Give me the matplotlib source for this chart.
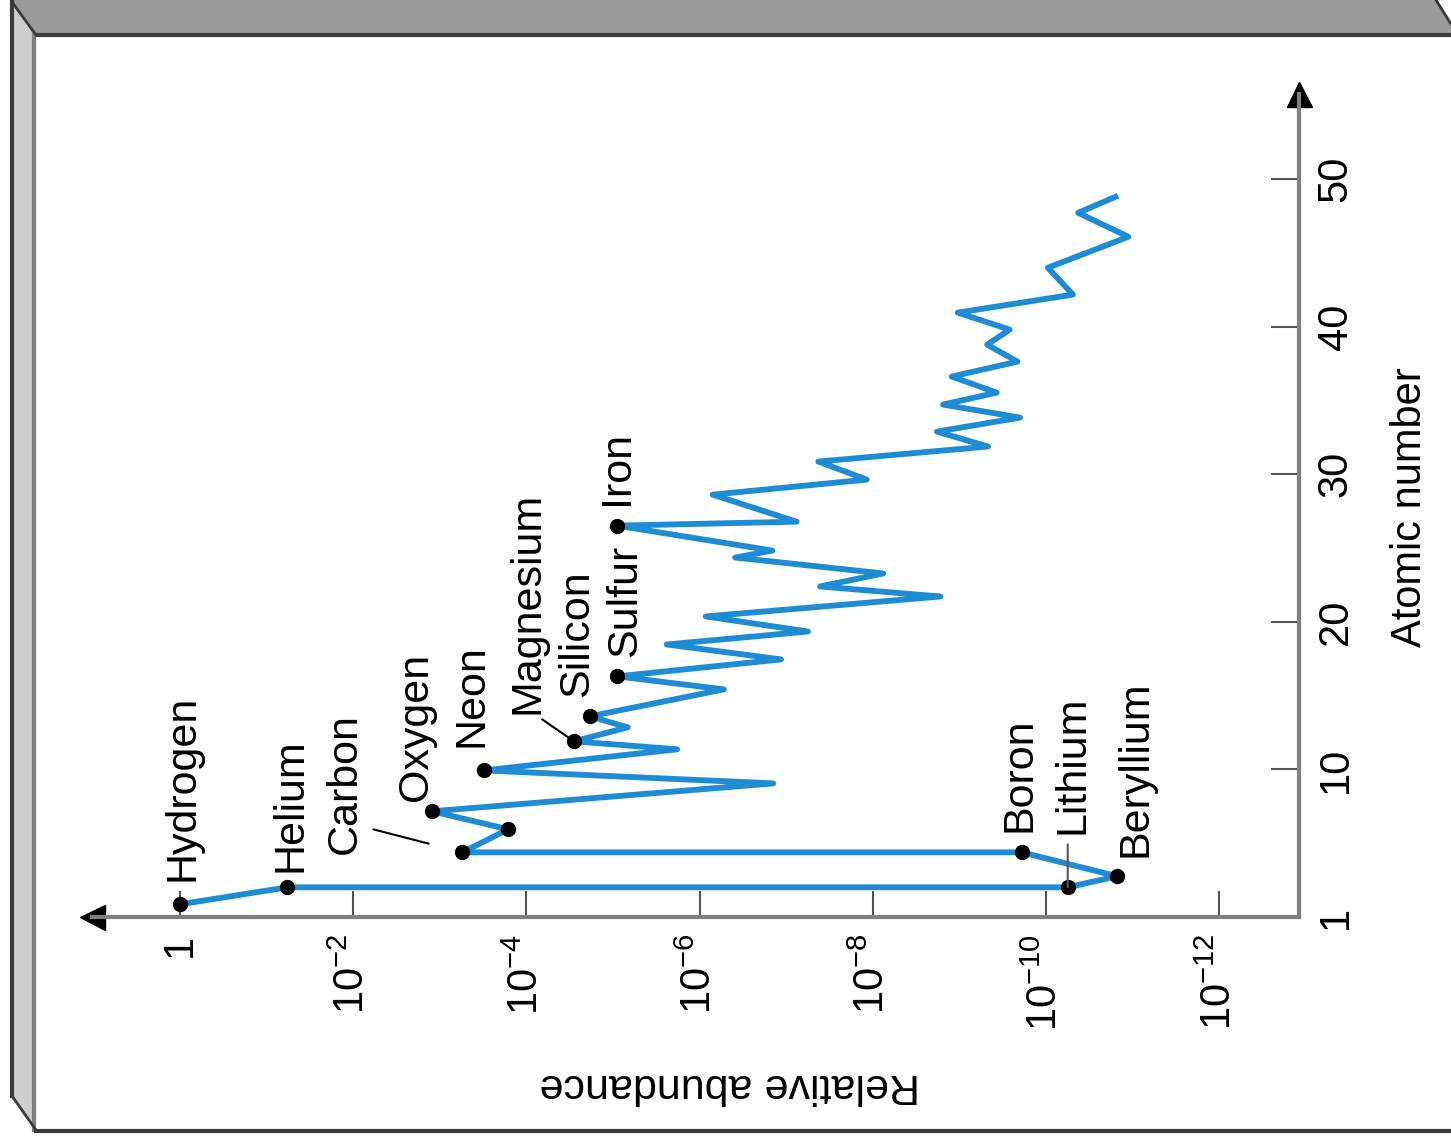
import matplotlib.pyplot as plt
from matplotlib.patches import Polygon

plt.rcParams['font.family'] = 'Liberation Sans'
plt.rcParams['mathtext.fontset'] = 'custom'
plt.rcParams['mathtext.rm'] = 'Liberation Sans'
plt.rcParams['mathtext.default'] = 'regular'

# abundance curve (log10 of relative abundance) against atomic number
z = [0.86, 2.01, 2.01, 2.76, 4.38, 4.38, 5.94, 7.16, 9.05, 9.93,
     11.36, 11.90, 12.85, 13.59, 15.42, 16.30, 17.45, 18.46, 19.34, 20.36,
     21.71, 22.39, 23.27, 24.35, 24.82, 26.51, 26.78, 28.61, 29.63, 30.85,
     31.87, 32.88, 33.83, 34.71, 35.52, 36.61, 37.62, 38.77, 39.79, 40.94,
     42.16, 43.98, 46.08, 47.70, 48.78]
log_abund = [0.0, -1.24, -10.25, -10.82, -9.72, -3.26, -3.79, -2.91, -6.85, -3.51,
             -5.74, -4.55, -5.17, -4.73, -6.28, -5.05, -6.94, -5.62, -7.25, -6.07,
             -8.78, -7.39, -8.12, -6.41, -6.84, -5.05, -7.12, -6.15, -7.93, -7.37,
             -9.33, -8.74, -9.70, -8.81, -9.43, -8.91, -9.67, -9.32, -9.58, -8.98,
             -10.31, -10.02, -10.95, -10.37, -10.80]

# points marked with a dot
dot_idx = [0, 1, 2, 3, 4, 5, 6, 7, 9, 11, 13, 15, 25]

# element names and which point they belong to
names = ['Hydrogen', 'Helium', 'Lithium', 'Beryllium', 'Boron', 'Carbon',
         'Oxygen', 'Neon', 'Magnesium', 'Silicon', 'Sulfur', 'Iron']
name_idx = [0, 1, 2, 3, 4, 5, 7, 9, 11, 13, 15, 25]

x_ticks = [0, -2, -4, -6, -8, -10, -12]
x_labels = ['1', '10$^{-2}$', '10$^{-4}$', '10$^{-6}$', '10$^{-8}$', '10$^{-10}$', '10$^{-12}$']
z_ticks = [0, 10, 20, 30, 40, 50]
z_labels = ['1', '10', '20', '30', '40', '50']

# label offsets from the dot, in pixels
offsets = [(3, 23), (3, 15), (5, 53), (18, 19), (-2, 20), (-117, -2),
           (-16, 10), (-12, 23), (-47, 27), (-13, 19), (8, 19), (0, 21)]

fig = plt.figure(figsize=(14.51, 11.40), dpi=100)

# grey panel frame
bg = fig.add_axes([0, 0, 1, 1])
bg.set_xlim(0, 1451)
bg.set_ylim(1140, 0)
bg.axis('off')
bg.add_patch(Polygon([(12, 0), (1436, 0), (1451, 24), (1451, 35), (36, 35)],
                     closed=True, facecolor='#9b9b9b', edgecolor='none'))
bg.add_patch(Polygon([(12, 0), (36, 35), (36, 1130), (12, 1096)],
                     closed=True, facecolor='#cecece', edgecolor='none'))
bg.plot([36, 1451], [35, 35], color='#3a3a3a', lw=3)
bg.plot([12, 12], [0, 1096], color='#3a3a3a', lw=3)
bg.plot([34, 34], [35, 1130], color='#808080', lw=3)
bg.plot([12, 36], [2, 35], color='#3a3a3a', lw=2)
bg.plot([12, 36], [1096, 1130], color='#3a3a3a', lw=2)
bg.plot([36, 1451], [1131, 1131], color='#3a3a3a', lw=3)
bg.plot([1436, 1451], [0, 24], color='#3a3a3a', lw=2)

ax = fig.add_axes([92 / 1451, 223 / 1140, 1207 / 1451, 823 / 1140])
ax.patch.set_alpha(0)
ax.set_xlim(1.016, -12.92)
ax.set_ylim(0, 55.75)

ax.plot(log_abund, z, color='#1e8cd4', lw=4.2, zorder=2)
ax.plot([log_abund[i] for i in dot_idx], [z[i] for i in dot_idx], 'o',
        color='black', ms=10, zorder=3)

for name, i, off in zip(names, name_idx, offsets):
    ax.annotate(name, xy=(log_abund[i], z[i]), xytext=off, textcoords='offset pixels',
                rotation=90, ha='center', va='bottom', fontsize=31)

# leader lines
ax.annotate('', xy=(log_abund[5], z[5]), xytext=(-89, 23), textcoords='offset pixels',
            arrowprops=dict(arrowstyle='-', color='black', lw=1.5, shrinkA=0, shrinkB=25))
ax.annotate('', xy=(log_abund[11], z[11]), xytext=(-32, 22), textcoords='offset pixels',
            arrowprops=dict(arrowstyle='-', color='black', lw=1.5, shrinkA=0, shrinkB=5))
ax.annotate('', xy=(log_abund[2], z[2]), xytext=(0, 43), textcoords='offset pixels',
            arrowprops=dict(arrowstyle='-', color='#555555', lw=1.5, shrinkA=0, shrinkB=0))

for s in ['left', 'top']:
    ax.spines[s].set_visible(False)
for s in ['bottom', 'right']:
    ax.spines[s].set_color('#808080')
    ax.spines[s].set_linewidth(3)

ax.set_xticks(x_ticks)
ax.set_xticklabels(x_labels)
ax.yaxis.tick_right()
ax.set_yticks(z_ticks)
ax.set_yticklabels(z_labels, va='center')
ax.tick_params(axis='x', direction='in', length=19, width=1.5, color='#555555',
               labelrotation=90, labelsize=30, pad=12)
ax.tick_params(axis='y', direction='in', length=20, width=1.5, color='#555555',
               labelrotation=90, labelsize=30, pad=12)

# axis arrows
ax.plot(0, 0, marker='<', ms=18, color='black', transform=ax.transAxes, clip_on=False)
ax.plot(1, 1, marker='^', ms=18, color='black', transform=ax.transAxes, clip_on=False)

ax.text(1.092, 0.498, 'Atomic number', rotation=90, ha='center', va='center',
        fontsize=30, transform=ax.transAxes)
ax.text(0.5286, -0.204, 'Relative abundance', rotation=180, ha='center', va='center',
        fontsize=31, transform=ax.transAxes)

plt.savefig('out.png', dpi=100)
